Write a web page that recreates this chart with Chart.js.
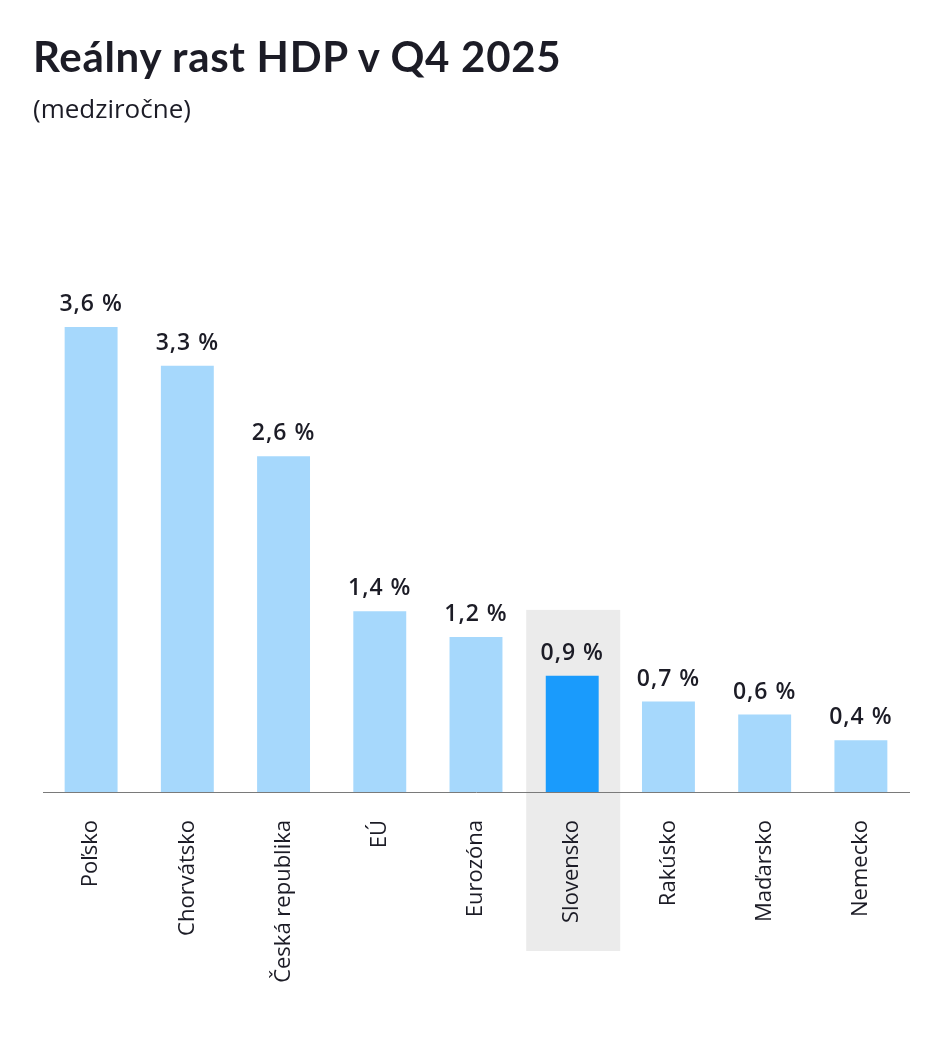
<!DOCTYPE html>
<html>
<head>
<meta charset="utf-8">
<script src="https://cdn.jsdelivr.net/npm/chart.js@4.4.1/dist/chart.umd.min.js"></script>
<style>
  body { margin: 0; background: #fff; }
  #wrap { position: relative; width: 944px; height: 1038px; }
  h1 { position: absolute; left: 33px; top: 31px; margin: 0; font: 700 42px Lato, sans-serif; color: #1c1c26; letter-spacing: 0.7px; }
  p { position: absolute; left: 33px; top: 90px; margin: 0; font: 400 26px "Open Sans", sans-serif; color: #1c1c26; }
  canvas { position: absolute; left: 0; top: 0; }
</style>
</head>
<body>
<div id="wrap">
  <canvas id="myChart" width="944" height="1038"></canvas>
  <h1>Reálny rast HDP v Q4 2025</h1>
  <p>(medziročne)</p>
</div>
<script>
const countries = ['Poľsko', 'Chorvátsko', 'Česká republika', 'EÚ', 'Eurozóna', 'Slovensko', 'Rakúsko', 'Maďarsko', 'Nemecko'];
const growth = [3.6, 3.3, 2.6, 1.4, 1.2, 0.9, 0.7, 0.6, 0.4];
const highlight = 'Slovensko';

const lightBlue = 'rgb(166,216,252)';
const darkBlue = 'rgb(26,155,252)';

// grey box behind the highlighted country, drawn before the axis labels
const highlightBox = {
  id: 'highlightBox',
  beforeDraw(chart) {
    const i = countries.indexOf(highlight);
    const x = chart.scales.x.getPixelForValue(i);
    const top = chart.scales.y.getPixelForValue(1.41);
    const bottom = chart.chartArea.bottom + 159;
    const ctx = chart.ctx;
    ctx.save();
    ctx.fillStyle = '#ebebeb';
    ctx.fillRect(x - 46, top, 94, bottom - top);
    ctx.restore();
  }
};

const valueLabels = {
  id: 'valueLabels',
  afterDatasetsDraw(chart) {
    const ctx = chart.ctx;
    const meta = chart.getDatasetMeta(0);
    ctx.save();
    ctx.font = '600 23px "Open Sans", sans-serif';
    ctx.letterSpacing = '1px';
    ctx.fillStyle = '#1c1c26';
    ctx.textAlign = 'center';
    ctx.textBaseline = 'bottom';
    meta.data.forEach((bar, i) => {
      ctx.fillText(growth[i].toFixed(1).replace('.', ',') + ' %', bar.x, bar.y - 11);
    });
    ctx.restore();
  }
};

new Chart(
  document.getElementById('myChart'),
  {
    type: 'bar',
    data: {
      labels: countries,
      datasets: [
        {
          data: growth,
          backgroundColor: countries.map(c => c === highlight ? darkBlue : lightBlue),
          categoryPercentage: 1,
          barPercentage: 0.55
        }
      ]
    },
    options: {
      responsive: false,
      devicePixelRatio: 1,
      animation: false,
      layout: { padding: { left: 43, right: 35, top: 327, bottom: 0 } },
      plugins: {
        legend: { display: false },
        tooltip: { enabled: false }
      },
      scales: {
        x: {
          grid: { display: false },
          border: { display: true, color: '#7a7a7a', width: 1 },
          ticks: {
            color: '#1c1c26',
            font: { family: 'Open Sans', size: 22 },
            minRotation: 90,
            maxRotation: 90,
            padding: 20,
            autoSkip: false
          },
          afterFit(scale) { scale.height = 246; }
        },
        y: {
          display: false,
          min: 0,
          max: 3.6
        }
      }
    },
    plugins: [highlightBox, valueLabels]
  }
);
</script>
</body>
</html>
